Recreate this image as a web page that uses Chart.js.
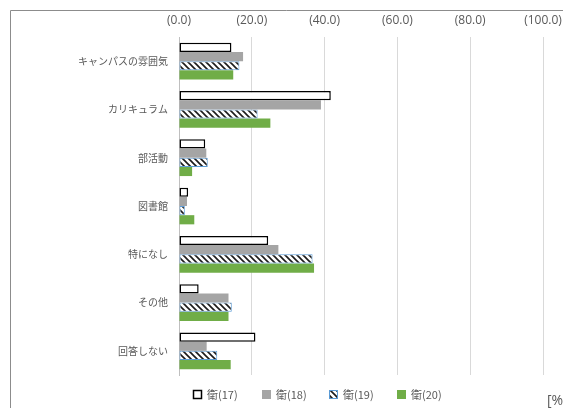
<!DOCTYPE html>
<html><head><meta charset="utf-8">
<script src="https://cdn.jsdelivr.net/npm/chart.js@4"></script>
<style>html,body{margin:0;padding:0;background:#fff;overflow:hidden;}#wrap{width:563px;height:408px;position:relative;}</style>
</head><body><div id="wrap"><canvas id="c" width="563" height="408"></canvas></div>
<script>
const categories = ['キャンパスの雰囲気','カリキュラム','部活動','図書館','特になし','その他','回答しない'];
const seriesNames = ['衛(17)','衛(18)','衛(19)','衛(20)'];
const s17 = [14.4, 41.7, 7.2, 2.5, 24.5, 5.4, 21.0];
const s18 = [17.6, 39.0, 7.5, 2.2, 27.3, 13.6, 7.6];
const s19 = [16.6, 21.6, 7.9, 1.6, 36.7, 14.5, 10.5];
const s20 = [14.9, 25.1, 3.6, 4.2, 37.1, 13.6, 14.2];
const xTicks = [0, 20, 40, 60, 80, 100];
const unitLabel = '[%]';

function hatch(){
  const p = document.createElement('canvas'); p.width = 6; p.height = 6;
  const g = p.getContext('2d');
  g.fillStyle = '#fff'; g.fillRect(0,0,6,6);
  g.strokeStyle = '#1a1a1a'; g.lineWidth = 1.6;
  g.beginPath();
  g.moveTo(-1,-1); g.lineTo(7,7);
  g.moveTo(-4,2); g.lineTo(4,10);
  g.moveTo(2,-4); g.lineTo(10,4);
  g.stroke();
  return document.getElementById('c').getContext('2d').createPattern(p,'repeat');
}
const hatchPat = hatch();

const framePlugin = {
  id: 'frame',
  beforeDraw(chart){
    const ctx = chart.ctx;
    ctx.save();
    ctx.strokeStyle = '#8c8c8c'; ctx.lineWidth = 1;
    ctx.beginPath();
    ctx.moveTo(10.5, 408); ctx.lineTo(10.5, 10.5); ctx.lineTo(563, 10.5);
    ctx.stroke();
    ctx.restore();
  },
  afterDraw(chart){
    const ctx = chart.ctx;
    ctx.save();
    ctx.fillStyle = '#595959';
    ctx.font = '14px "Open Sans", sans-serif';
    ctx.textBaseline = 'middle';
    ctx.fillText(unitLabel, 547, 401);
    // legend
    const xs = [193, 262, 329, 397];
    const y = 395;
    ctx.font = '11px "Noto Sans CJK JP", sans-serif';
    chart.data.datasets.forEach((ds, i) => {
      const x = xs[i];
      ctx.fillStyle = ds.backgroundColor;
      ctx.fillRect(x, y - 5, 9, 9);
      if (ds.borderWidth) {
        ctx.strokeStyle = ds.borderColor;
        ctx.lineWidth = ds.borderWidth;
        ctx.strokeRect(x + 0.5, y - 4.5, 8, 8);
      }
      ctx.fillStyle = '#595959';
      ctx.textBaseline = 'middle';
      ctx.fillText(ds.label, x + 14, y);
    });
    ctx.restore();
  }
};

new Chart(document.getElementById('c'), {
  type: 'bar',
  data: {
    labels: categories,
    datasets: [
      {label: seriesNames[0], data: s17, backgroundColor: '#ffffff', borderColor: '#000000', borderWidth: 1.5},
      {label: seriesNames[1], data: s18, backgroundColor: '#a5a5a5', borderColor: '#a5a5a5', borderWidth: 0},
      {label: seriesNames[2], data: s19, backgroundColor: hatchPat, borderColor: '#5b9bd5', borderWidth: 1},
      {label: seriesNames[3], data: s20, backgroundColor: '#70ad47', borderColor: '#70ad47', borderWidth: 0}
    ]
  },
  options: {
    indexAxis: 'y',
    responsive: false,
    animation: false,
    devicePixelRatio: 1,
    layout: {padding: {left: 10, right: 20, top: 10, bottom: 33}},
    datasets: {bar: {categoryPercentage: 0.76, barPercentage: 1.0, borderSkipped: false}},
    scales: {
      x: {
        position: 'top', min: 0, max: 100,
        afterBuildTicks(s){ s.ticks = xTicks.map(v => ({value: v})); },
        afterFit(s){ s.height = 27; s.paddingLeft = 0; s.paddingRight = 0; },
        ticks: {
          color: '#595959', font: {family: '"Open Sans", sans-serif', size: 12},
          padding: 9,
          callback: v => '(' + Number(v).toFixed(1) + ')'
        },
        grid: {color: '#d9d9d9', lineWidth: 1, drawTicks: false},
        border: {display: false}
      },
      y: {
        afterFit(s){ s.width = 169; s.paddingTop = 0; s.paddingBottom = 0; },
        ticks: {color: '#595959', font: {family: '"Noto Sans CJK JP", sans-serif', size: 10}, padding: 11},
        grid: {display: false, drawTicks: false},
        border: {display: true, color: '#bfbfbf', width: 1}
      }
    },
    plugins: {
      legend: {display: false},
      tooltip: {enabled: false}
    }
  },
  plugins: [framePlugin]
});
</script>
</body></html>
